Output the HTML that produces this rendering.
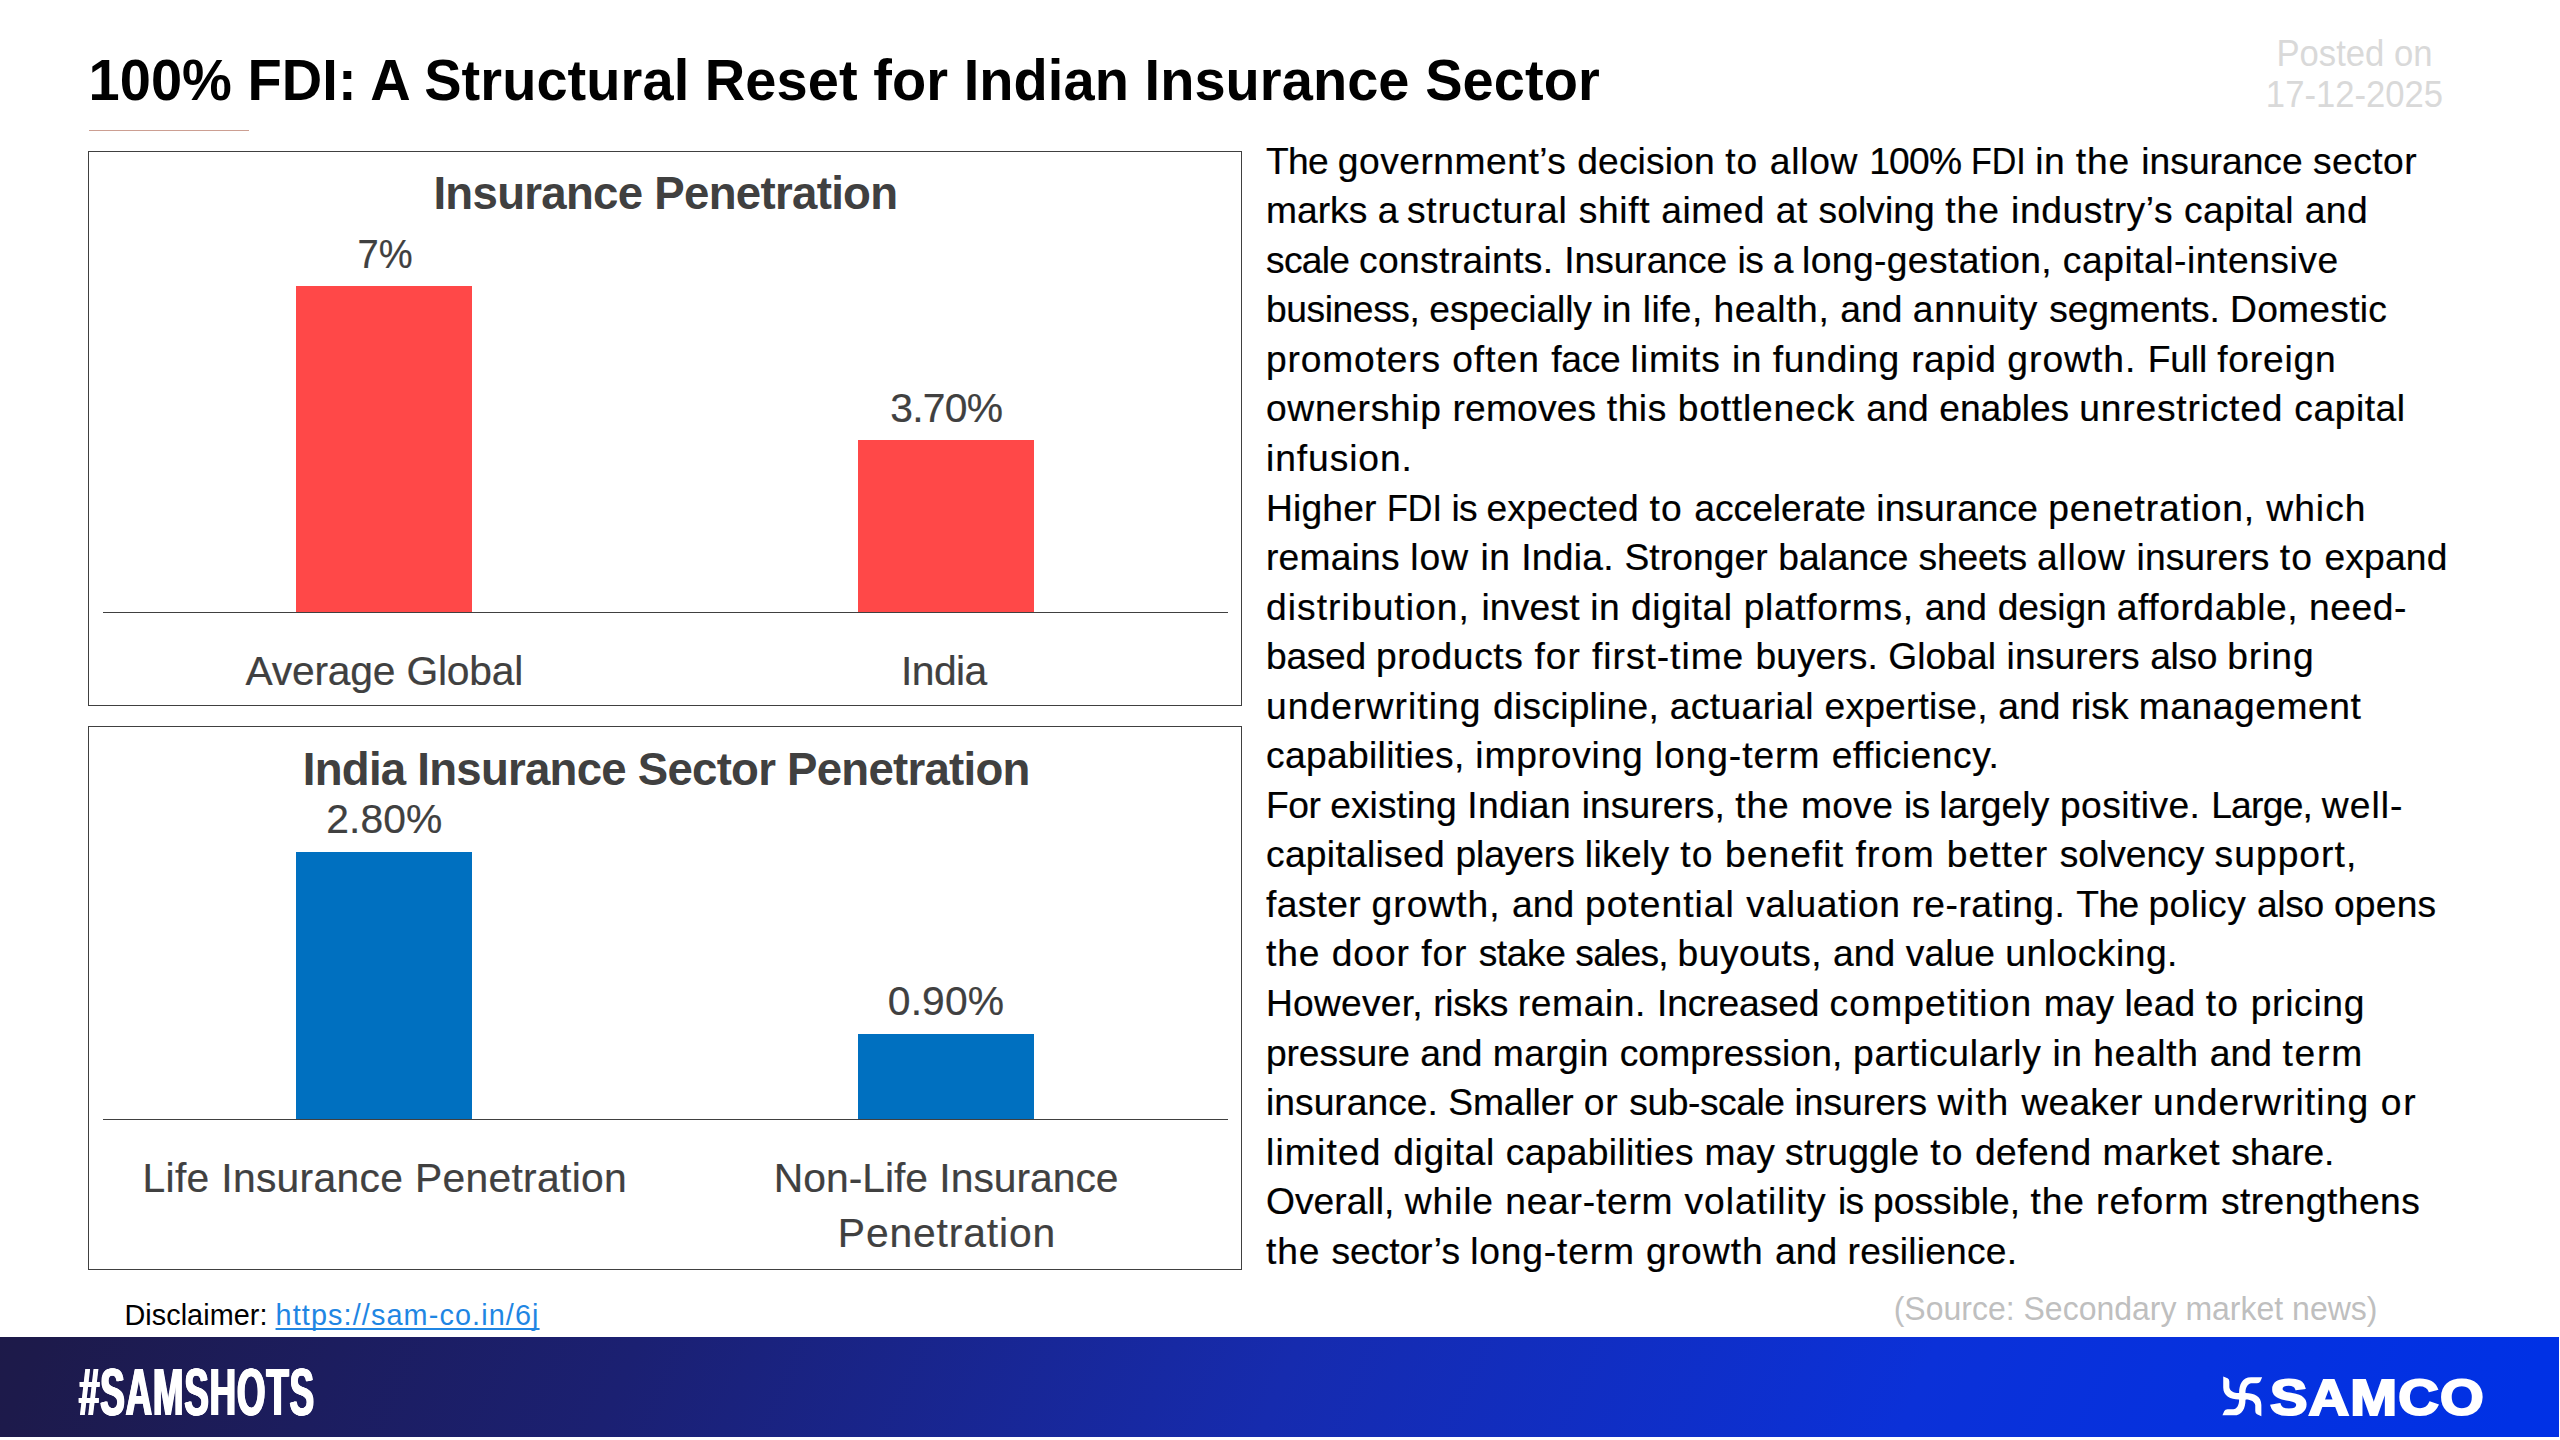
<!DOCTYPE html>
<html lang="en">
<head>
<meta charset="utf-8">
<title>100% FDI: A Structural Reset for Indian Insurance Sector</title>
<style>
*{margin:0;padding:0;box-sizing:border-box}
html,body{width:2560px;height:1440px;overflow:hidden;background:#fff}
body{position:relative;font-family:"Liberation Sans",sans-serif;color:#000;-webkit-font-smoothing:antialiased}
.abs{position:absolute;white-space:nowrap}
h1{position:absolute;left:88.5px;top:49.10px;font-size:56px;line-height:64px;font-weight:700;white-space:nowrap;letter-spacing:.055px;transform-origin:0 51.40px;transform:scaleY(1.04)}
.rule{position:absolute;left:89px;top:130px;width:160px;height:1px;background:#cc9f92}
.posted{position:absolute;left:2154.5px;width:400px;text-align:center;color:#d9d9d9;font-size:34.67px;line-height:40.8px;top:34.49px}
.posted span{display:block;transform-origin:50% 83%;transform:scaleY(1.04)}
.chart{position:absolute;left:88px;width:1154px;border:1px solid #404040;background:#fff}
#c1{top:151px;height:555px}
#c2{top:726px;height:544px}
.axis{position:absolute;left:103px;width:1124.5px;height:1px;background:#404040}
.bar{position:absolute;width:176px}
.red{background:#ff4848}
.blue{background:#0070c0}
.lab{position:absolute;text-align:center;white-space:nowrap;color:#404040;-webkit-text-stroke:.22px #404040;font-size:40.8px}
.ttl{position:absolute;text-align:center;white-space:nowrap;color:#404040;font-weight:700;font-size:45.6px}
#body{position:absolute;left:1266.0px;top:136.69px;font-size:37.2px;line-height:49.545px;color:#000;white-space:nowrap;-webkit-text-stroke:.22px #000}
#body span{display:block;white-space:pre}
#body i{font-style:normal}
.disc{position:absolute;left:124.4px;top:1297.02px;font-size:28.8px;line-height:36px;white-space:nowrap}
.disc a{color:#1f86e3;text-decoration:underline;text-decoration-thickness:1.6px;text-underline-offset:3px;text-decoration-skip-ink:none}
.src{position:absolute;left:1893.7px;transform-origin:0 76%;transform:scaleY(1.04);top:1290.21px;font-size:32px;line-height:38px;color:#bfbfbf;white-space:nowrap}
#footer{position:absolute;left:0;top:1337px;width:2559px;height:99.6px;background:linear-gradient(113deg,#1d1a49 0%,#1d1a4b 1.6%,#1b2072 24.6%,#162bae 50%,#0b31d8 74.6%,#0031e5 98%,#0031e6 100%)}
.tag{position:absolute;left:78.5px;top:1356px;font-size:66px;line-height:72px;font-weight:700;color:#fff;white-space:nowrap;transform-origin:0 50%;transform:scaleX(.556);letter-spacing:1.5px;text-shadow:1.6px 0 #fff,-1.6px 0 #fff,.8px 0 #fff,-.8px 0 #fff}
.samco{position:absolute;left:2269.6px;top:1369.5px;font-size:50px;line-height:56px;font-weight:700;color:#fff;white-space:nowrap;transform-origin:0 50%;transform:scaleX(1.124);-webkit-text-stroke:2.2px #fff;letter-spacing:1px}
.logo{position:absolute;left:2221.1px;top:1374.5px;width:42.6px;height:42.6px}
</style>
</head>
<body>
<h1>100% FDI: A Structural Reset for Indian Insurance Sector</h1>
<div class="rule"></div>
<div class="posted"><span>Posted on</span><span>17-12-2025</span></div>
<div class="chart" id="c1"></div>
<div class="ttl" style="left:65.40px;width:1200px;top:166.84px;line-height:54.72px;letter-spacing:-0.710px;">Insurance Penetration</div>
<div class="lab" style="left:-215.10px;width:1200px;top:229.78px;line-height:48.96px;letter-spacing:0.000px;transform:scaleX(.935);">7%</div>
<div class="bar red" style="left:296px;top:286px;height:326px"></div>
<div class="lab" style="left:346.30px;width:1200px;top:384.18px;line-height:48.96px;letter-spacing:-0.727px;">3.70%</div>
<div class="bar red" style="left:858px;top:440px;height:172px"></div>
<div class="axis" style="top:612px"></div>
<div class="lab" style="left:-215.70px;width:1200px;top:647.18px;line-height:48.96px;letter-spacing:-0.210px;">Average Global</div>
<div class="lab" style="left:343.90px;width:1200px;top:647.18px;line-height:48.96px;letter-spacing:-0.574px;">India</div>
<div class="chart" id="c2"></div>
<div class="ttl" style="left:66.20px;width:1200px;top:743.04px;line-height:54.72px;letter-spacing:-0.756px;">India Insurance Sector Penetration</div>
<div class="lab" style="left:-215.60px;width:1200px;top:794.88px;line-height:48.96px;letter-spacing:0.086px;">2.80%</div>
<div class="bar blue" style="left:296px;top:852px;height:267px"></div>
<div class="lab" style="left:346.00px;width:1200px;top:976.98px;line-height:48.96px;letter-spacing:0.123px;">0.90%</div>
<div class="bar blue" style="left:858px;top:1034px;height:85px"></div>
<div class="axis" style="top:1119px"></div>
<div class="lab" style="left:-215.20px;width:1200px;top:1153.88px;line-height:48.96px;letter-spacing:0.318px;">Life Insurance Penetration</div>
<div class="lab" style="left:346.20px;width:1200px;top:1153.88px;line-height:48.96px;letter-spacing:0.002px;">Non-Life Insurance</div>
<div class="lab" style="left:347.00px;width:1200px;top:1208.88px;line-height:48.96px;letter-spacing:0.884px;">Penetration</div>
<div id="body">
<span><i style="letter-spacing:-0.647px">The </i><i style="letter-spacing:0.503px">government’s </i><i style="letter-spacing:0.123px">decision </i><i style="letter-spacing:1.087px">to </i><i style="letter-spacing:0.719px">allow </i><i style="letter-spacing:-0.725px">100% </i><i style="display:inline-block;width:64.23px;transform-origin:0 0;transform:scaleX(0.9143)">FDI </i><i style="letter-spacing:0.435px">in </i><i style="letter-spacing:0.875px">the </i><i style="letter-spacing:0.011px">insurance </i><i style="letter-spacing:0.446px">sector</i></span>
<span><i style="letter-spacing:0.02px">marks </i><i style="letter-spacing:-0.866px">a </i><i style="letter-spacing:0.769px">structural </i><i style="letter-spacing:0.669px">shift </i><i style="letter-spacing:0.476px">aimed </i><i style="letter-spacing:0.486px">at </i><i style="letter-spacing:0.079px">solving </i><i style="letter-spacing:0.939px">the </i><i style="letter-spacing:0.559px">industry’s </i><i style="letter-spacing:0.357px">capital </i><i style="letter-spacing:0.499px">and</i></span>
<span><i style="letter-spacing:-0.697px">scale </i><i style="letter-spacing:0.364px">constraints. </i><i style="letter-spacing:-0.028px">Insurance </i><i style="letter-spacing:-0.668px">is </i><i style="letter-spacing:-0.861px">a </i><i style="letter-spacing:0.406px">long-gestation, </i><i style="letter-spacing:0.539px">capital-intensive</i></span>
<span><i style="letter-spacing:-0.408px">business, </i><i style="letter-spacing:-0.077px">especially </i><i style="letter-spacing:0.423px">in </i><i style="letter-spacing:0.431px">life, </i><i style="letter-spacing:0.599px">health, </i><i style="letter-spacing:0.049px">and </i><i style="letter-spacing:0.761px">annuity </i><i style="letter-spacing:-0.1px">segments. </i><i style="letter-spacing:0.254px">Domestic</i></span>
<span><i style="letter-spacing:0.847px">promoters </i><i style="letter-spacing:0.982px">often </i><i style="letter-spacing:-0.245px">face </i><i style="letter-spacing:0.904px">limits </i><i style="letter-spacing:0.493px">in </i><i style="letter-spacing:0.766px">funding </i><i style="letter-spacing:0.516px">rapid </i><i style="letter-spacing:1.031px">growth. </i><i style="letter-spacing:-0.177px">Full </i><i style="letter-spacing:0.79px">foreign</i></span>
<span><i style="letter-spacing:0.671px">ownership </i><i style="letter-spacing:0.158px">removes </i><i style="letter-spacing:0.546px">this </i><i style="letter-spacing:0.799px">bottleneck </i><i style="letter-spacing:0.142px">and </i><i style="letter-spacing:-0.067px">enables </i><i style="letter-spacing:0.792px">unrestricted </i><i style="letter-spacing:0.548px">capital</i></span>
<span><i style="letter-spacing:0.92px">infusion.</i></span>
<span><i style="letter-spacing:0.165px">Higher </i><i style="display:inline-block;width:64.34px;transform-origin:0 0;transform:scaleX(0.9159)">FDI </i><i style="letter-spacing:-0.698px">is </i><i style="letter-spacing:0.198px">expected </i><i style="letter-spacing:1.113px">to </i><i style="letter-spacing:0.019px">accelerate </i><i style="letter-spacing:0.041px">insurance </i><i style="letter-spacing:0.86px">penetration, </i><i style="letter-spacing:1.026px">which</i></span>
<span><i style="letter-spacing:0.216px">remains </i><i style="letter-spacing:1.016px">low </i><i style="letter-spacing:0.458px">in </i><i style="letter-spacing:0.267px">India. </i><i style="letter-spacing:0.107px">Stronger </i><i style="letter-spacing:-0.043px">balance </i><i style="letter-spacing:-0.207px">sheets </i><i style="letter-spacing:0.748px">allow </i><i style="letter-spacing:0.055px">insurers </i><i style="letter-spacing:1.113px">to </i><i style="letter-spacing:0.183px">expand</i></span>
<span><i style="letter-spacing:1.062px">distribution, </i><i style="letter-spacing:0.189px">invest </i><i style="letter-spacing:0.493px">in </i><i style="letter-spacing:0.65px">digital </i><i style="letter-spacing:0.677px">platforms, </i><i style="letter-spacing:0.143px">and </i><i style="letter-spacing:-0.123px">design </i><i style="letter-spacing:0.582px">affordable, </i><i style="letter-spacing:0.521px">need-</i></span>
<span><i style="letter-spacing:-0.283px">based </i><i style="letter-spacing:0.611px">products </i><i style="letter-spacing:0.977px">for </i><i style="letter-spacing:0.96px">first-time </i><i style="letter-spacing:0.045px">buyers. </i><i style="letter-spacing:0.084px">Global </i><i style="letter-spacing:0.108px">insurers </i><i style="letter-spacing:-0.301px">also </i><i style="letter-spacing:0.92px">bring</i></span>
<span><i style="letter-spacing:1.083px">underwriting </i><i style="letter-spacing:0.253px">discipline, </i><i style="letter-spacing:0.402px">actuarial </i><i style="letter-spacing:0.193px">expertise, </i><i style="letter-spacing:0.02px">and </i><i style="letter-spacing:-0.017px">risk </i><i style="letter-spacing:0.536px">management</i></span>
<span><i style="letter-spacing:0.335px">capabilities, </i><i style="letter-spacing:0.781px">improving </i><i style="letter-spacing:0.953px">long-term </i><i style="letter-spacing:0.532px">efficiency.</i></span>
<span><i style="letter-spacing:-0.485px">For </i><i style="letter-spacing:0.063px">existing </i><i style="letter-spacing:0.413px">Indian </i><i style="letter-spacing:0.058px">insurers, </i><i style="letter-spacing:0.911px">the </i><i style="letter-spacing:0.368px">move </i><i style="letter-spacing:-0.692px">is </i><i style="letter-spacing:0.104px">largely </i><i style="letter-spacing:0.451px">positive. </i><i style="letter-spacing:-0.727px">Large, </i><i style="letter-spacing:1.036px">well-</i></span>
<span><i style="letter-spacing:0.293px">capitalised </i><i style="letter-spacing:-0.12px">players </i><i style="letter-spacing:0.33px">likely </i><i style="letter-spacing:1.196px">to </i><i style="letter-spacing:1.042px">benefit </i><i style="letter-spacing:1.309px">from </i><i style="letter-spacing:1.09px">better </i><i style="letter-spacing:-0.026px">solvency </i><i style="letter-spacing:1.058px">support,</i></span>
<span><i style="letter-spacing:0.316px">faster </i><i style="letter-spacing:1.014px">growth, </i><i style="letter-spacing:0.14px">and </i><i style="letter-spacing:1.034px">potential </i><i style="letter-spacing:0.6px">valuation </i><i style="letter-spacing:0.521px">re-rating. </i><i style="letter-spacing:-0.572px">The </i><i style="letter-spacing:0.45px">policy </i><i style="letter-spacing:-0.315px">also </i><i style="letter-spacing:0.23px">opens</i></span>
<span><i style="letter-spacing:0.926px">the </i><i style="letter-spacing:0.932px">door </i><i style="letter-spacing:0.949px">for </i><i style="letter-spacing:-0.437px">stake </i><i style="letter-spacing:-0.749px">sales, </i><i style="letter-spacing:0.504px">buyouts, </i><i style="letter-spacing:0.121px">and </i><i style="letter-spacing:0.023px">value </i><i style="letter-spacing:0.531px">unlocking.</i></span>
<span><i style="letter-spacing:0.217px">However, </i><i style="letter-spacing:-0.378px">risks </i><i style="letter-spacing:0.593px">remain. </i><i style="letter-spacing:-0.097px">Increased </i><i style="letter-spacing:1.144px">competition </i><i style="letter-spacing:0.001px">may </i><i style="letter-spacing:0.155px">lead </i><i style="letter-spacing:1.167px">to </i><i style="letter-spacing:0.698px">pricing</i></span>
<span><i style="letter-spacing:-0.097px">pressure </i><i style="letter-spacing:0.069px">and </i><i style="letter-spacing:0.4px">margin </i><i style="letter-spacing:0.144px">compression, </i><i style="letter-spacing:0.728px">particularly </i><i style="letter-spacing:0.439px">in </i><i style="letter-spacing:0.708px">health </i><i style="letter-spacing:0.069px">and </i><i style="letter-spacing:1.779px">term</i></span>
<span><i style="letter-spacing:0.038px">insurance. </i><i style="letter-spacing:-0.128px">Smaller </i><i style="letter-spacing:0.744px">or </i><i style="letter-spacing:-0.443px">sub-scale </i><i style="letter-spacing:0.044px">insurers </i><i style="letter-spacing:1.528px">with </i><i style="letter-spacing:0.194px">weaker </i><i style="letter-spacing:1.143px">underwriting </i><i style="letter-spacing:1.599px">or</i></span>
<span><i style="letter-spacing:1.169px">limited </i><i style="letter-spacing:0.648px">digital </i><i style="letter-spacing:0.339px">capabilities </i><i style="letter-spacing:-0.022px">may </i><i style="letter-spacing:0.273px">struggle </i><i style="letter-spacing:1.149px">to </i><i style="letter-spacing:0.488px">defend </i><i style="letter-spacing:0.696px">market </i><i style="letter-spacing:-0.048px">share.</i></span>
<span><i style="letter-spacing:0.023px">Overall, </i><i style="letter-spacing:0.905px">while </i><i style="letter-spacing:0.778px">near-term </i><i style="letter-spacing:0.984px">volatility </i><i style="letter-spacing:-0.686px">is </i><i style="letter-spacing:0.022px">possible, </i><i style="letter-spacing:0.919px">the </i><i style="letter-spacing:1.007px">reform </i><i style="letter-spacing:0.447px">strengthens</i></span>
<span><i style="letter-spacing:0.842px">the </i><i style="letter-spacing:-0.038px">sector’s </i><i style="letter-spacing:0.823px">long-term </i><i style="letter-spacing:1.038px">growth </i><i style="letter-spacing:0.027px">and </i><i style="letter-spacing:0.199px">resilience.</i></span>
</div>
<div class="disc"><span style="letter-spacing:0.062px">Disclaimer: </span><a style="letter-spacing:1.119px">https://sam-co.in/6j</a></div>
<div class="src">(Source: Secondary market news)</div>
<div id="footer"></div>
<div class="tag">#SAMSHOTS</div>
<svg class="logo" viewBox="-22 -22 44 44"><g fill="#fff"><path transform="rotate(0)" d="M-3.3 3.3V-3.7C-3.3 -12 0 -19.7 9 -19.7H20.5L18.6 -15.2Q17.7 -13.4 15.2 -13.4H9.3C5.6 -12.9 3.3 -9 3.3 -3.7V3.3Z"/><path transform="rotate(90)" d="M-3.3 3.3V-3.7C-3.3 -12 0 -19.7 9 -19.7H20.5L18.6 -15.2Q17.7 -13.4 15.2 -13.4H9.3C5.6 -12.9 3.3 -9 3.3 -3.7V3.3Z"/><path transform="rotate(180)" d="M-3.3 3.3V-3.7C-3.3 -12 0 -19.7 9 -19.7H20.5L18.6 -15.2Q17.7 -13.4 15.2 -13.4H9.3C5.6 -12.9 3.3 -9 3.3 -3.7V3.3Z"/><path transform="rotate(270)" d="M-3.3 3.3V-3.7C-3.3 -12 0 -19.7 9 -19.7H20.5L18.6 -15.2Q17.7 -13.4 15.2 -13.4H9.3C5.6 -12.9 3.3 -9 3.3 -3.7V3.3Z"/></g></svg>
<div class="samco">SAMCO</div>
</body>
</html>
